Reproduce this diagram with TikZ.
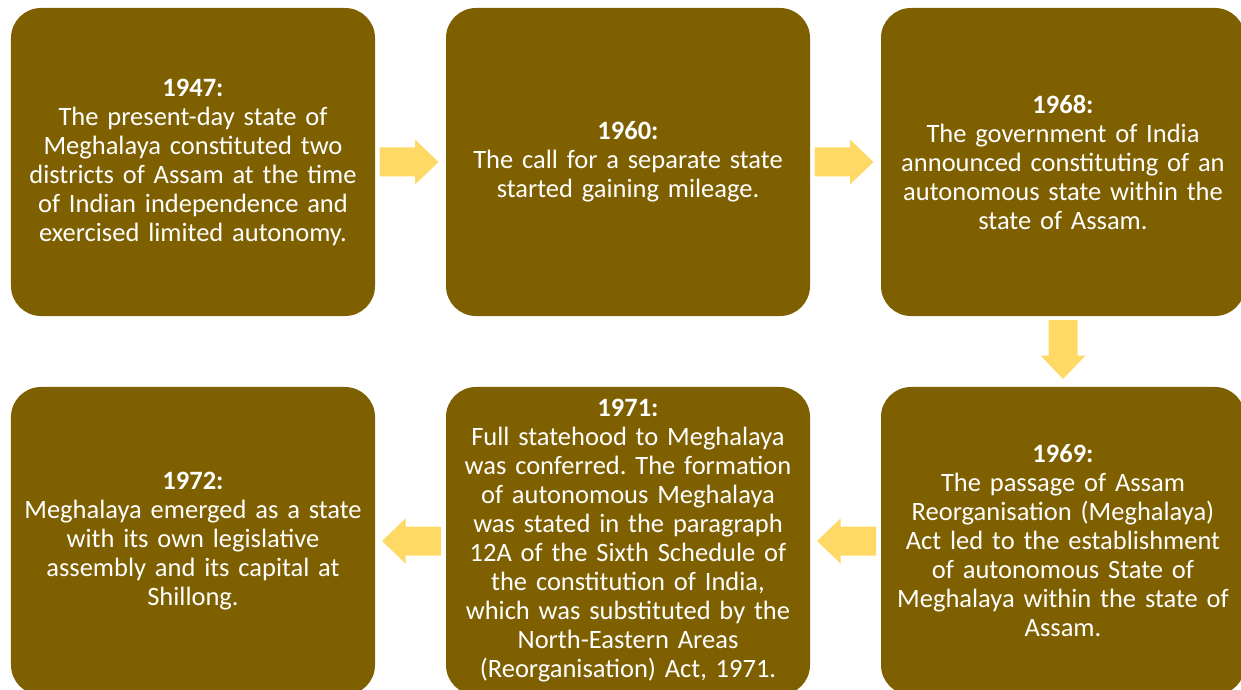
\documentclass[tikz,border=0pt]{standalone}
\usepackage{fontspec}
\setmainfont{Carlito}
\usetikzlibrary{calc}
\definecolor{boxbrown}{HTML}{7F6000}
\definecolor{arrowgold}{HTML}{FFD966}
\frenchspacing
\tikzset{
  stagebox/.style={fill=boxbrown, draw=none, rounded corners=30bp, minimum width=364bp, minimum height=308bp,
    text=white, align=center, text width=350bp, inner sep=0pt,
    font=\fontsize{26.5bp}{29bp}\selectfont},
  flowarrow/.pic={\fill[arrowgold] (-29.5,-14.5) -- (6,-14.5) -- (6,-22.5) -- (29.5,0) -- (6,22.5) -- (6,14.5) -- (-29.5,14.5) -- cycle;},
}
\begin{document}
\begin{tikzpicture}[x=1bp,y=-1bp]
\useasboundingbox (0,0) rectangle (1241,690);
\node[stagebox] (b1) at (193,162) {\textbf{1947:}\\The present-day state of\\Meghalaya constituted two\\districts of Assam at the time\\of Indian independence and\\exercised limited autonomy.};
\node[stagebox] (b2) at (628,162) {\textbf{1960:}\\The call for a separate state\\started gaining mileage.};
\node[stagebox] (b3) at (1063,162) {\textbf{1968:}\\The government of India\\announced constituting of an\\autonomous state within the\\state of Assam.};
\node[stagebox] (b4) at (1063,541) {\textbf{1969:}\\The passage of Assam\\Reorganisation (Meghalaya)\\Act led to the establishment\\of autonomous State of\\Meghalaya within the state of\\Assam.};
\node[stagebox] (b5) at (628,541) {\textbf{1971:}\\Full statehood to Meghalaya\\was conferred. The formation\\of autonomous Meghalaya\\was stated in the paragraph\\12A of the Sixth Schedule of\\the constitution of India,\\which was substituted by the\\North-Eastern Areas\\(Reorganisation) Act, 1971.};
\node[stagebox] (b6) at (193,541) {\textbf{1972:}\\Meghalaya emerged as a state\\with its own legislative\\assembly and its capital at\\Shillong.};
\coordinate (m1) at ($(b1.east)!0.5!(b2.west)$);
\coordinate (m2) at ($(b2.east)!0.5!(b3.west)$);
\coordinate (m3) at ($(b3.south)!0.5!(b4.north)$);
\coordinate (m4) at ($(b4.west)!0.5!(b5.east)$);
\coordinate (m5) at ($(b5.west)!0.5!(b6.east)$);
\pic at ([xshift=-1.5bp]m1) {flowarrow};
\pic at ([xshift=-1.5bp]m2) {flowarrow};
\pic[rotate=-90] at ([yshift=2bp]m3) {flowarrow};
\pic[rotate=180] at ([xshift=1bp]m4) {flowarrow};
\pic[rotate=180] at ([xshift=1bp]m5) {flowarrow};
\end{tikzpicture}
\end{document}
